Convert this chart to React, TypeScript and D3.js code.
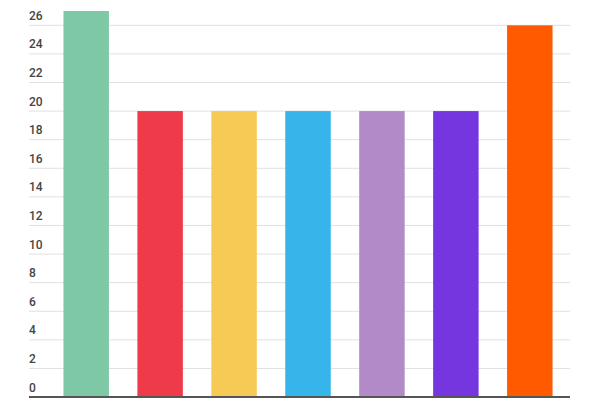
import React from "react";
import * as d3 from "d3";

const categories = ["A", "B", "C", "D", "E", "F", "G"];
const values = [27, 20, 20, 20, 20, 20, 26];
const colors = ["#7ec8a5", "#ef3a4a", "#f5cb55", "#35b5e9", "#b28ac8", "#7536e0", "#ff5a00"];
const tickValues = [0, 2, 4, 6, 8, 10, 12, 14, 16, 18, 20, 22, 24, 26];

const W = 600;
const H = 400;

export default function App() {
  const x = d3.scaleBand<string>().domain(categories).range([35, 581]).paddingInner(0.385).paddingOuter(0.385);
  const y = d3.scaleLinear().domain([0, 27]).range([397, 11]);
  const gridLeft = 29;
  const gridRight = 570;

  return (
    <svg width={W} height={H} style={{ position: "absolute", left: 0, top: 0, background: "#fff" }}>
      {tickValues.map((t) => (
        <g key={t}>
          {t > 0 && (
            <line x1={gridLeft} x2={gridRight} y1={y(t)} y2={y(t)} stroke="#e0e0e0" strokeWidth={1} />
          )}
          <text
            x={gridLeft}
            y={y(t) - 5.5}
            fontFamily="Roboto, sans-serif"
            fontSize={12}
            fontWeight={500}
            fill="#444"
          >
            {t}
          </text>
        </g>
      ))}
      {categories.map((c, i) => (
        <rect
          key={c}
          x={x(c)}
          y={y(values[i])}
          width={x.bandwidth()}
          height={y(0) - y(values[i])}
          fill={colors[i]}
        />
      ))}
      <line x1={gridLeft} x2={gridRight} y1={y(0)} y2={y(0)} stroke="#555" strokeWidth={2} />
    </svg>
  );
}
